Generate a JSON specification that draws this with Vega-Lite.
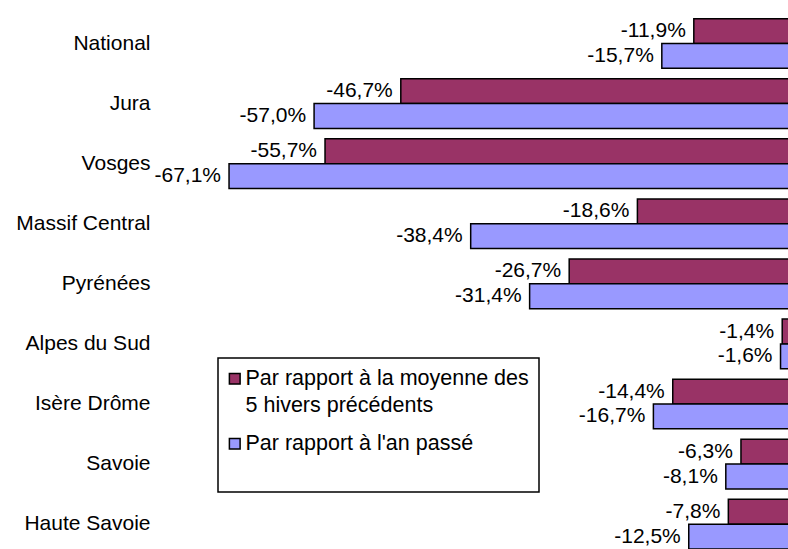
{
  "$schema": "https://vega.github.io/schema/vega-lite/v6.json",
  "width": 628,
  "height": 549,
  "autosize": {"type": "none"},
  "padding": {"left": 160, "top": 0, "right": 0, "bottom": 0},
  "background": "white",
  "config": {
    "view": {"stroke": null},
    "font": "Liberation Sans",
    "locale": {"number": {"decimal": ",", "thousands": " ", "grouping": [3], "currency": ["", " €"], "minus": "-"}}
  },
  "data": {
    "values": [
      {"region": "National", "serie": "Par rapport à la moyenne des 5 hivers précédents", "v": -0.119},
      {"region": "National", "serie": "Par rapport à l'an passé", "v": -0.157},
      {"region": "Jura", "serie": "Par rapport à la moyenne des 5 hivers précédents", "v": -0.467},
      {"region": "Jura", "serie": "Par rapport à l'an passé", "v": -0.570},
      {"region": "Vosges", "serie": "Par rapport à la moyenne des 5 hivers précédents", "v": -0.557},
      {"region": "Vosges", "serie": "Par rapport à l'an passé", "v": -0.671},
      {"region": "Massif Central", "serie": "Par rapport à la moyenne des 5 hivers précédents", "v": -0.186},
      {"region": "Massif Central", "serie": "Par rapport à l'an passé", "v": -0.384},
      {"region": "Pyrénées", "serie": "Par rapport à la moyenne des 5 hivers précédents", "v": -0.267},
      {"region": "Pyrénées", "serie": "Par rapport à l'an passé", "v": -0.314},
      {"region": "Alpes du Sud", "serie": "Par rapport à la moyenne des 5 hivers précédents", "v": -0.014},
      {"region": "Alpes du Sud", "serie": "Par rapport à l'an passé", "v": -0.016},
      {"region": "Isère Drôme", "serie": "Par rapport à la moyenne des 5 hivers précédents", "v": -0.144},
      {"region": "Isère Drôme", "serie": "Par rapport à l'an passé", "v": -0.167},
      {"region": "Savoie", "serie": "Par rapport à la moyenne des 5 hivers précédents", "v": -0.063},
      {"region": "Savoie", "serie": "Par rapport à l'an passé", "v": -0.081},
      {"region": "Haute Savoie", "serie": "Par rapport à la moyenne des 5 hivers précédents", "v": -0.078},
      {"region": "Haute Savoie", "serie": "Par rapport à l'an passé", "v": -0.125}
    ]
  },
  "encoding": {
    "y": {
      "field": "region", "type": "nominal", "sort": null,
      "scale": {"paddingInner": 0.174, "paddingOuter": 0.1556, "align": 1},
      "axis": {"title": null, "domain": false, "ticks": false, "labelFontSize": 21, "labelColor": "black", "labelPadding": 10, "labelLimit": 200, "labelFont": "Liberation Sans"}
    },
    "yOffset": {
      "field": "serie", "type": "nominal",
      "scale": {"domain": ["Par rapport à la moyenne des 5 hivers précédents", "Par rapport à l'an passé"], "paddingInner": 0, "paddingOuter": 0}
    },
    "x": {
      "field": "v", "type": "quantitative",
      "scale": {"domain": [-0.753, -0.00713], "nice": false, "zero": false},
      "axis": null
    }
  },
  "layer": [
    {
      "mark": {"type": "bar", "stroke": "black", "strokeWidth": 1.5, "clip": true},
      "encoding": {
        "x2": {"datum": 0},
        "color": {
          "field": "serie", "type": "nominal",
          "scale": {"domain": ["Par rapport à la moyenne des 5 hivers précédents", "Par rapport à l'an passé"], "range": ["#993366", "#9999FF"]},
          "legend": {
            "orient": "none", "legendX": 58, "legendY": 358,
            "title": null,
            "labelFontSize": 21.5, "labelFont": "Liberation Sans", "labelColor": "black", "labelLimit": 400,
            "labelOffset": 0, "symbolOffset": -4, "rowPadding": 15, "padding": 10,
            "symbolType": "square", "symbolSize": 115,
            "symbolStrokeColor": "black", "symbolStrokeWidth": 1.5,
            "strokeColor": "black", "fillColor": "white",
            "labelExpr": "indexof(datum.value, 'moyenne') >= 0 ? ['Par rapport à la moyenne des', '5 hivers précédents'] : [\"Par rapport à l'an passé\", '']",
            "encode": {
              "labels": {"update": {"lineHeight": {"value": 27}}},
              "legend": {"update": {"strokeWidth": {"value": 1.5}}}
            }
          }
        }
      }
    },
    {
      "mark": {"type": "text", "align": "right", "baseline": "middle", "dx": -8, "fontSize": 21, "font": "Liberation Sans", "color": "black"},
      "encoding": {
        "text": {"field": "v", "type": "quantitative", "format": ".1%"}
      }
    }
  ]
}
